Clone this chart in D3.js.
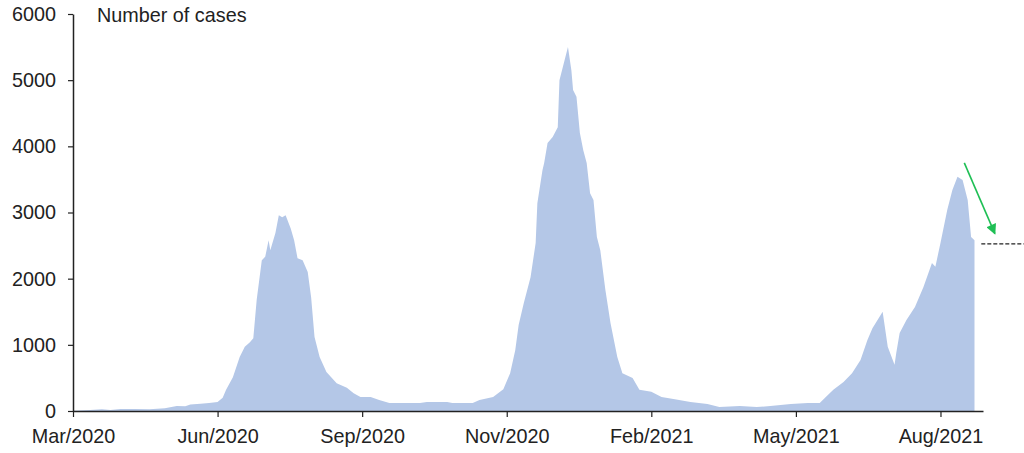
<!DOCTYPE html>
<html>
<head>
<meta charset="utf-8">
<script src="https://cdn.jsdelivr.net/npm/d3@7"></script>
<style>
  html, body { margin: 0; padding: 0; background: #fff; }
  svg { display: block; font-family: "Liberation Sans", Arial, sans-serif; }
</style>
</head>
<body>
<svg id="chart" width="1024" height="453"></svg>
<script>
// ---- data ----
const dates = [
  "2020-03-20","2020-03-30","2020-04-06","2020-04-11","2020-04-17","2020-04-25","2020-05-04","2020-05-13",
  "2020-05-20","2020-05-25","2020-05-28","2020-06-03","2020-06-08","2020-06-13","2020-06-16","2020-06-18",
  "2020-06-22","2020-06-26","2020-06-29","2020-07-02","2020-07-04","2020-07-06","2020-07-09","2020-07-11",
  "2020-07-13","2020-07-14","2020-07-17","2020-07-19","2020-07-21","2020-07-23","2020-07-26","2020-07-28",
  "2020-07-30","2020-08-02","2020-08-05","2020-08-07","2020-08-09","2020-08-12","2020-08-16","2020-08-22",
  "2020-08-28","2020-09-01","2020-09-05","2020-09-11","2020-09-16","2020-09-22","2020-10-10","2020-10-14",
  "2020-10-26","2020-10-29","2020-11-10","2020-11-14","2020-11-22","2020-11-28","2020-12-02","2020-12-05",
  "2020-12-07","2020-12-10","2020-12-14","2020-12-17","2020-12-18","2020-12-21","2020-12-22","2020-12-24",
  "2020-12-27","2020-12-30","2020-12-31","2021-01-03","2021-01-05","2021-01-07","2021-01-08","2021-01-10",
  "2021-01-12","2021-01-14","2021-01-16","2021-01-18","2021-01-20","2021-01-22","2021-01-24","2021-01-27",
  "2021-01-30","2021-02-03","2021-02-06","2021-02-12","2021-02-16","2021-02-23","2021-03-01","2021-03-08",
  "2021-03-18","2021-03-28","2021-04-04","2021-04-16","2021-04-26","2021-05-04","2021-05-16","2021-05-26",
  "2021-06-02","2021-06-05","2021-06-10","2021-06-16","2021-06-21","2021-06-26","2021-06-30","2021-07-03",
  "2021-07-06","2021-07-09","2021-07-12","2021-07-16","2021-07-17","2021-07-19","2021-07-23","2021-07-28",
  "2021-08-02","2021-08-07","2021-08-09","2021-08-12","2021-08-16","2021-08-19","2021-08-22","2021-08-25",
  "2021-08-28","2021-08-30","2021-09-01"
];
const cases = [
  5, 15, 25, 15, 30, 30, 25, 40,
  75, 70, 100, 110, 120, 135, 200, 320,
  510, 815, 970, 1040, 1100, 1680, 2280, 2330,
  2580, 2430, 2690, 2960, 2930, 2960, 2760, 2580,
  2310, 2280, 2100, 1720, 1120, 815, 590, 420,
  350, 270, 210, 210, 165, 120, 120, 135,
  135, 120, 120, 165, 210, 330, 570, 920,
  1300, 1630, 2020, 2540, 3140, 3640, 3750, 4050,
  4140, 4290, 5000, 5300, 5500, 5150, 4850, 4750,
  4200, 3940, 3750, 3290, 3190, 2630, 2430, 1830,
  1330, 815, 570, 500, 320, 290, 210, 180,
  135, 105, 60, 75, 60, 75, 105, 120,
  120, 195, 320, 440, 570, 770, 1070, 1250,
  1375, 1500, 970, 700, 875, 1180, 1375, 1570,
  1875, 2235, 2180, 2540, 3040, 3340, 3540, 3490,
  3190, 2630, 2580
];
const yTicks = [0, 1000, 2000, 3000, 4000, 5000, 6000];
const xTickDates = ["2020-03-20","2020-06-13","2020-09-06","2020-11-30","2021-02-23","2021-05-19","2021-08-12"];
const xDomain = ["2020-03-20", "2021-09-06"];
const yTitle = "Number of cases";
// annotation: green arrow and dashed level line (data units)
const arrowFrom = ["2021-08-26", 3750];
const arrowTo = ["2021-09-13", 2680];
const levelLine = ["2021-09-05", "2021-09-30", 2525];

// ---- chart ----
(function () {
const parse = d3.utcParse("%Y-%m-%d");
const svg = d3.select("#chart");
const mLeft = 73, mRight = 983, mTop = 14, mBottom = 411;

const x = d3.scaleUtc().domain(xDomain.map(parse)).range([mLeft, mRight]);
const y = d3.scaleLinear().domain([0, 6000]).range([mBottom, mTop]);

const data = dates.map((d, i) => ({ date: parse(d), value: cases[i] }));

const area = d3.area()
  .x(d => x(d.date))
  .y0(y(0))
  .y1(d => y(d.value));

svg.append("path")
  .datum(data)
  .attr("d", area)
  .attr("fill", "#b4c7e7");

const textColor = "#222";
const fontFam = '"Liberation Sans", Arial, sans-serif';
const fontSize = "19.8px";

// y axis
const yAxis = d3.axisLeft(y).tickValues(yTicks).tickFormat(d3.format("d"))
  .tickSize(5).tickSizeOuter(0).tickPadding(12);
const gy = svg.append("g").attr("transform", `translate(${mLeft},0)`).call(yAxis);
gy.select(".domain").attr("stroke", textColor).attr("stroke-width", 1.5);
gy.selectAll(".tick line").attr("stroke", textColor).attr("stroke-width", 1.2);
gy.selectAll(".tick text").attr("fill", textColor).style("font-size", fontSize).style("font-family", fontFam);

// x axis
const fmt = d3.utcFormat("%b/%Y");
const xAxis = d3.axisBottom(x).tickValues(xTickDates.map(parse)).tickFormat(fmt)
  .tickSize(6).tickSizeOuter(0).tickPadding(12);
const gx = svg.append("g").attr("transform", `translate(0,${mBottom})`).call(xAxis);
gx.select(".domain").attr("stroke", textColor).attr("stroke-width", 1.5);
gx.selectAll(".tick line").attr("stroke", textColor).attr("stroke-width", 1.2);
gx.selectAll(".tick text").attr("fill", textColor).style("font-size", fontSize).style("font-family", fontFam);

// title
svg.append("text")
  .attr("x", 97).attr("y", 22)
  .attr("fill", textColor)
  .style("font-size", fontSize).style("font-family", fontFam)
  .text(yTitle);

// green arrow
const defs = svg.append("defs");
defs.append("marker")
  .attr("id", "arrowhead")
  .attr("viewBox", "0 0 10 10")
  .attr("refX", 9).attr("refY", 5)
  .attr("markerWidth", 7).attr("markerHeight", 6.5)
  .attr("markerUnits", "strokeWidth")
  .attr("orient", "auto")
  .append("path").attr("d", "M0,0 L10,5 L0,10 Z").attr("fill", "#1fbf55");

svg.append("line")
  .attr("x1", x(parse(arrowFrom[0]))).attr("y1", y(arrowFrom[1]))
  .attr("x2", x(parse(arrowTo[0]))).attr("y2", y(arrowTo[1]))
  .attr("stroke", "#1fbf55").attr("stroke-width", 1.6)
  .attr("marker-end", "url(#arrowhead)");

// dashed level line
svg.append("line")
  .attr("x1", x(parse(levelLine[0]))).attr("x2", x(parse(levelLine[1])))
  .attr("y1", y(levelLine[2])).attr("y2", y(levelLine[2]))
  .attr("stroke", "#222").attr("stroke-width", 1.3)
  .attr("stroke-dasharray", "4,2");
})();
</script>
</body>
</html>
